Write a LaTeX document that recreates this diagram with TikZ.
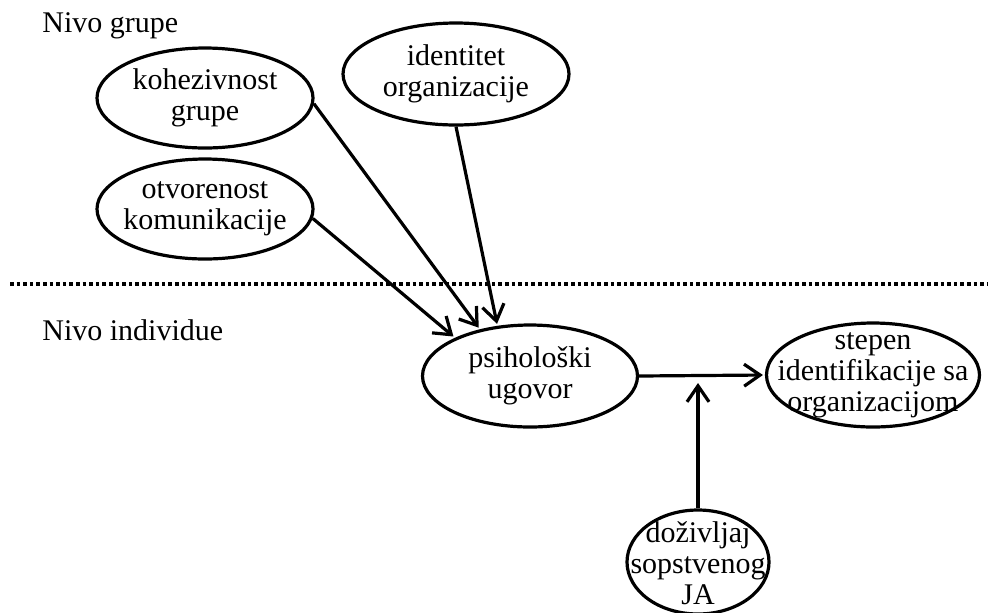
\documentclass[tikz,border=0pt]{standalone}
\usepackage{fontspec}
\setmainfont{Liberation Serif}
\usetikzlibrary{shapes.geometric,arrows.meta}

\tikzset{
  pojam/.style={draw, ellipse, line width=1.6pt, inner sep=0pt},
  strelica/.style={line width=1.6pt, shorten >=1pt, -{Straight Barb[length=8pt,width=11pt,line width=1.6pt]}}
}

\begin{document}
\begin{tikzpicture}[x=0.5pt,y=-0.5pt,font=\fontsize{15}{15.5}\selectfont]
  \useasboundingbox (0,0) rectangle (988,612);
  % granica nivoa
  \draw[line width=1.8pt, dash pattern=on 1.8pt off 1.5pt] (10,284) -- (988,284);
  \node[anchor=base west, inner sep=0pt] (nivog) at (42,32) {Nivo grupe};
  \node[anchor=base west, inner sep=0pt] (nivoi) at (42,340) {Nivo individue};
  % nivo grupe
  \node[pojam, minimum width=108pt, minimum height=50pt,
        label={[align=center]center:kohezivnost\\grupe}] (koh) at (205,98) {};
  \node[pojam, minimum width=108pt, minimum height=50pt,
        label={[align=center]center:otvorenost\\komunikacije}] (otv) at (205,209) {};
  \node[pojam, minimum width=113pt, minimum height=51pt,
        label={[align=center]center:identitet\\organizacije}] (idn) at (456,74) {};
  % nivo individue
  \node[pojam, minimum width=107.5pt, minimum height=51pt,
        label={[align=center]center:psihološki\\ugovor}] (psi) at (530,376) {};
  \node[pojam, minimum width=106.5pt, minimum height=52pt,
        label={[align=center]center:stepen\\identifikacije sa\\organizacijom}] (stp) at (873,375) {};
  \node[pojam, minimum width=71pt, minimum height=52pt,
        label={[align=center,yshift=-0.5pt]center:doživljaj\\sopstvenog\\JA}] (doz) at (698,562) {};
  \coordinate (spoj) at (698,381);

  \draw[strelica] (koh.-3) -- (psi.137);
  \draw[strelica] (otv.-5) -- (psi.153);
  \draw[strelica] (idn.south) -- (psi.123);
  \draw[strelica] (psi.east) -- (stp.west);
  \draw[strelica] (doz.north) -- (spoj);
\end{tikzpicture}
\end{document}
